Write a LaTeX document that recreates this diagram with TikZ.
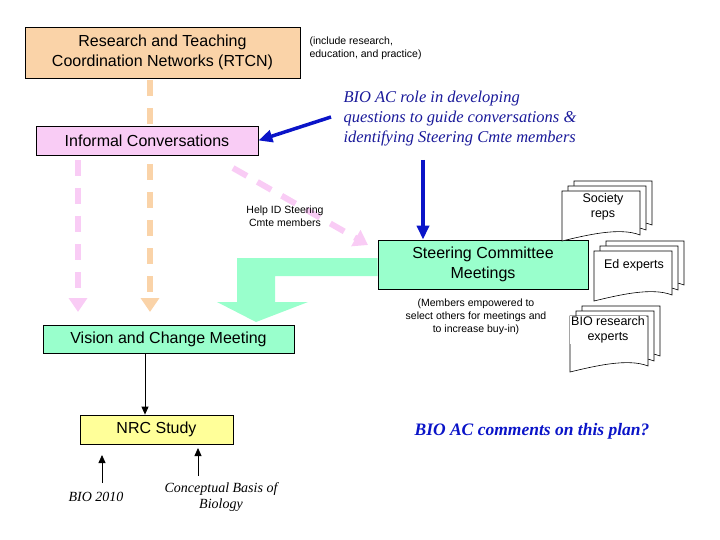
\documentclass[tikz,border=0pt]{standalone}
\usepackage{fontspec}
\setmainfont{Liberation Sans}
\newfontfamily\serifx{Liberation Serif}
\usetikzlibrary{arrows.meta}
\definecolor{peach}{HTML}{FAD3A8}
\definecolor{pinkc}{HTML}{F9CCF5}
\definecolor{mint}{HTML}{99FFCC}
\definecolor{yel}{HTML}{FFFF99}
\definecolor{bluec}{HTML}{0A14C8}
\definecolor{navyt}{HTML}{1A1A9A}
\begin{document}
\begin{tikzpicture}[x=1pt,y=-1pt,
 box/.style={draw=black,line width=0.8pt,font=\fontsize{16}{20}\selectfont,align=center,inner sep=0pt},
 small/.style={font=\fontsize{10.5}{13}\selectfont,align=center},
 ital/.style={font=\serifx\itshape\fontsize{16.5}{20}\selectfont,text=navyt,align=left},
 dsh/.style={line width=6pt,dash pattern=on 16pt off 12pt,-{Triangle[width=18pt,length=14pt]}},
 blu/.style={draw=bluec,line width=3.5pt,-{Triangle[width=12pt,length=14pt]}},
 dfont/.style={font=\fontsize{12.5}{15}\selectfont,align=center},
 doc/.pic={\foreach \o in {2,1,0}{\fill[white,draw=black,line width=0.6pt] (6*\o,-5*\o) -- ++(78,0) -- ++(0,#1) .. controls +(-20,-8) and +(25,-6) .. ++(-78,6) -- cycle;}}]
\useasboundingbox (0,0) rectangle (720,540);
% dashed arrows (behind boxes)
\coordinate (o1) at (150,312); \coordinate (p1) at (78,312);
\draw[dsh,peach] (150,80) -- (o1);
\draw[dsh,pinkc] (78,160) -- (p1);
\coordinate (p2) at (368,245);
\draw[dsh,pinkc] (233,168) -- (p2);
% boxes
\node[box,fill=peach,minimum width=275pt,minimum height=51pt] (rtcn) at (162.5,52.5) {Research and Teaching\\Coordination Networks (RTCN)};
\node[small,align=left,anchor=north west] (inc) at (306,33) {(include research,\\education, and practice)};
\node[ital,anchor=north west] (bio) at (340,88) {BIO AC role in developing\\questions to guide conversations \&\\identifying Steering Cmte members};
\node[box,fill=pinkc,minimum width=222pt,minimum height=29pt] (inf) at (147,140.5) {Informal Conversations};
\node[box,fill=mint,minimum width=210pt,minimum height=49pt] (sc) at (483,264.5) {Steering Committee\\Meetings};
\node[box,fill=mint,minimum width=251pt,minimum height=28pt] (vis) at (168.5,339) {Vision and Change Meeting};
\node[box,fill=yel,minimum width=153pt,minimum height=29pt] (nrc) at (156.5,429.5) {NRC Study};
\node[small] (help) at (285,216) {Help ID Steering\\Cmte members};
% blue arrows
\coordinate (b1) at (331,117);
\draw[blu] (b1) -- (inf.east);
\coordinate (b2) at (423,160);
\draw[blu] (b2) -- (sc.north -| b2);
% big mint arrow
\fill[mint] (sc.west |- 0,258) -- (237,258) -- (237,302) -- (217,302) -- (256,322) -- (308,302) -- (275,302) -- (275,276) -- (sc.west |- 0,276) -- cycle;
\node[small] (mem) at (476,317) {(Members empowered to\\select others for meetings and\\to increase buy-in)};
% docs
\pic at (562,191) {doc=44};
\pic at (594,251) {doc=44};
\pic at (570,316) {doc=50};
\node[dfont] (soc) at (603,207) {Society\\reps};
\node[dfont] (ed) at (634,265) {Ed experts};
\node[dfont,fill=white,inner sep=1pt] (br) at (608,330) {BIO research\\experts};
% NRC
\draw[line width=0.8pt,-{Triangle[width=7pt,length=8pt]}] (vis.south -| 145,0) -- (nrc.north -| 145,0);
\node[font=\serifx\itshape\fontsize{14}{16}\selectfont] (b2010) at (96,497) {BIO 2010};
\node[font=\serifx\itshape\fontsize{14}{16}\selectfont,align=center] (cb) at (221,497) {Conceptual Basis of\\Biology};
\coordinate (u1) at (102,483); \coordinate (u2) at (198,476);
\draw[line width=0.8pt,-{Triangle[width=7pt,length=8pt]}] (u1) -- (102,455);
\draw[line width=0.8pt,-{Triangle[width=7pt,length=8pt]}] (u2) -- (198,448);
\node[font=\serifx\bfseries\itshape\fontsize{17.5}{20}\selectfont,text=bluec] (cm) at (532,431) {BIO AC comments on this plan?};
\end{tikzpicture}
\end{document}
